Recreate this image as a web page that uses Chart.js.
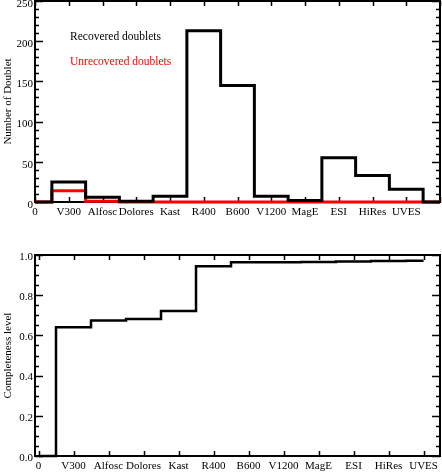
<!DOCTYPE html>
<html>
<head>
<meta charset="utf-8">
<script src="https://cdn.jsdelivr.net/npm/chart.js@4/dist/chart.umd.min.js"></script>
<style>
  html, body { margin: 0; padding: 0; background: #fff; }
  #wrap { position: relative; width: 442px; height: 473px; }
  .box { position: absolute; left: 0; width: 442px; }
</style>
</head>
<body>
<div id="wrap">
  <div class="box" style="top:0;height:222px"><canvas id="countChart"></canvas></div>
  <div class="box" style="top:228px;height:245px"><canvas id="compChart"></canvas></div>
</div>
<script>
// instruments along the x axis (position 0 is labelled "0")
const instruments = ['0', 'V300', 'Alfosc', 'Dolores', 'Kast', 'R400', 'B600', 'V1200', 'MagE', 'ESI', 'HiRes', 'UVES'];

// top panel: counts per instrument, last point (x = 12) closes the histogram
const recovered   = [0, 25, 6, 1, 7, 213, 145, 7, 2, 55, 33, 16, 0];
const unrecovered = [0, 14, 1, 0, 0, 0, 0, 0, 0, 0, 0, 0, 0];
const countTicks  = [0, 50, 100, 150, 200, 250];

// bottom panel: cumulative completeness
const completeness = [0, 0.64, 0.674, 0.681, 0.722, 0.944, 0.964, 0.964, 0.965, 0.968, 0.97, 0.972];
const levelTicks   = ['0.0', '0.2', '0.4', '0.6', '0.8', '1.0'];

const FONT = "'Liberation Serif', 'DejaVu Serif', serif";

// frame + inward ticks on all four sides, like the original IDL plot
const frameTicks = {
  id: 'frameTicks',
  beforeDatasetsDraw(chart, args, opts) {
    const { ctx, chartArea: a, scales: { x, y } } = chart;
    ctx.save();
    ctx.strokeStyle = '#000';
    ctx.lineWidth = 1.5;
    ctx.beginPath();
    x.ticks.forEach(t => {
      const px = Math.round(x.getPixelForValue(t.value)) + 0.5;
      ctx.moveTo(px, a.bottom); ctx.lineTo(px, a.bottom - 5);
      ctx.moveTo(px, a.top); ctx.lineTo(px, a.top + 5);
    });
    const n = Math.round((y.max - y.min) / opts.minor);
    for (let i = 0; i <= n; i++) {
      const v = y.min + i * opts.minor;
      const len = (i % opts.per === 0) ? 8 : 4;
      const py = Math.round(y.getPixelForValue(v)) + 0.5;
      ctx.moveTo(a.left, py); ctx.lineTo(a.left + len, py);
      ctx.moveTo(a.right, py); ctx.lineTo(a.right - len, py);
    }
    ctx.stroke();
    ctx.lineWidth = 2;
    ctx.strokeRect(a.left, a.top, a.right - a.left, a.bottom - a.top);
    ctx.restore();
  }
};

// in-plot legend: plain coloured text, no swatches
const textLegend = {
  id: 'textLegend',
  afterDraw(chart) {
    const { ctx, chartArea: a } = chart;
    ctx.save();
    ctx.font = '11.5px ' + FONT;
    ctx.textBaseline = 'middle';
    chart.data.datasets.forEach((ds, i) => {
      ctx.fillStyle = ds.borderColor;
      ctx.fillText(ds.label, a.left + 35, a.top + 36 + i * 25);
    });
    ctx.restore();
  }
};

function xAxis(min, max, height, last) {
  return {
    type: 'linear',
    min: min,
    max: max,
    afterBuildTicks: s => { s.ticks = []; for (let i = 0; i <= last; i++) s.ticks.push({ value: i }); },
    afterFit: s => { s.height = height; s.paddingLeft = 0; s.paddingRight = 0; },
    grid: { display: false, drawTicks: false },
    border: { display: false },
    ticks: {
      autoSkip: false,
      maxRotation: 0,
      padding: 4,
      color: '#000',
      font: { family: FONT, size: 11 },
      callback: v => instruments[v] !== undefined ? instruments[v] : ''
    }
  };
}

function yAxis(min, max, values, title, labelOf, offset) {
  return {
    min: min,
    max: max,
    afterBuildTicks: s => { s.ticks = values.map(v => ({ value: Number(v) })); },
    afterFit: s => { s.width = 35; s.paddingTop = 0; s.paddingBottom = 0; },
    grid: { display: false, drawTicks: false },
    border: { display: false },
    ticks: {
      padding: 2,
      labelOffset: offset,
      color: '#000',
      font: { family: FONT, size: 11 },
      callback: labelOf
    },
    title: {
      display: true,
      text: title,
      color: '#000',
      padding: { top: 2, bottom: 0 },
      font: { family: FONT, size: 11 }
    }
  };
}

const pts = arr => arr.map((v, i) => ({ x: i, y: v }));

new Chart(document.getElementById('countChart'), {
  type: 'line',
  data: {
    datasets: [
      { label: 'Recovered doublets', data: pts(recovered), borderColor: '#000000', borderWidth: 3, stepped: 'middle', pointRadius: 0, clip: 4 },
      { label: 'Unrecovered doublets', data: pts(unrecovered), borderColor: '#ff0000', borderWidth: 3, stepped: 'middle', pointRadius: 0, clip: 4 }
    ]
  },
  options: {
    responsive: true,
    maintainAspectRatio: false,
    animation: false,
    layout: { padding: { top: 1, right: 2, left: 0, bottom: 0 } },
    plugins: { legend: { display: false }, tooltip: { enabled: false }, frameTicks: { minor: 10, per: 5 } },
    scales: {
      x: xAxis(0, 12, 20, 12),
      y: yAxis(0, 250, countTicks, 'Number of Doublet', v => String(v), 3)
    }
  },
  plugins: [frameTicks, textLegend]
});

new Chart(document.getElementById('compChart'), {
  type: 'line',
  data: {
    datasets: [
      { label: 'Completeness', data: pts(completeness), borderColor: '#000000', borderWidth: 2.5, stepped: 'middle', pointRadius: 0, clip: 4 }
    ]
  },
  options: {
    responsive: true,
    maintainAspectRatio: false,
    animation: false,
    layout: { padding: { top: 27, right: 2, left: 0, bottom: 0 } },
    plugins: { legend: { display: false }, tooltip: { enabled: false }, frameTicks: { minor: 0.05, per: 4 } },
    scales: {
      x: xAxis(-0.1, 11.47, 17, 11),
      y: yAxis(0, 1, levelTicks, 'Completeness level', v => Number(v).toFixed(1), 2)
    }
  },
  plugins: [frameTicks]
});
</script>
</body>
</html>
